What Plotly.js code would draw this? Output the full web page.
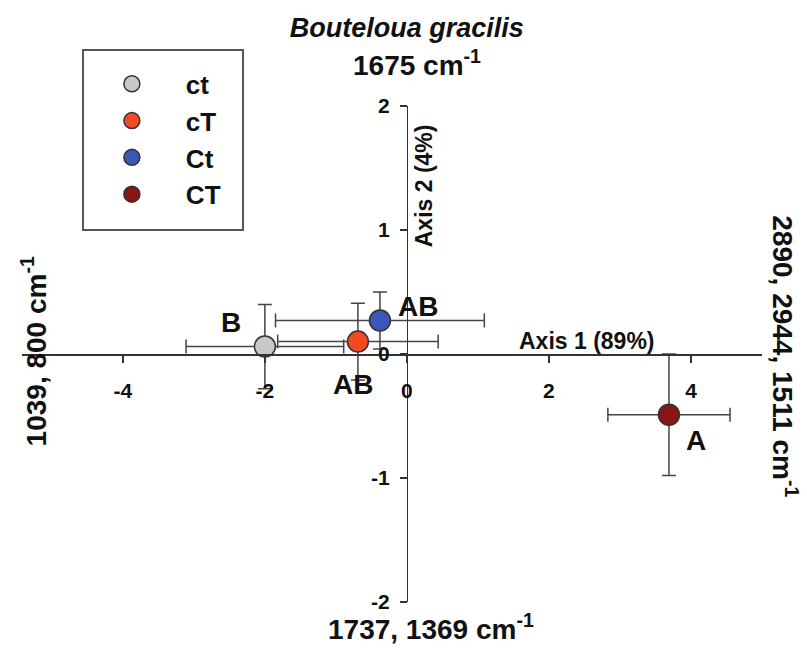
<!DOCTYPE html>
<html>
<head>
<meta charset="utf-8">
<script src="https://cdn.plot.ly/plotly-3.0.1.min.js"></script>
<style>html,body{margin:0;padding:0;background:#fff;}#chart{width:807px;height:651px;}</style>
</head>
<body>
<div id="chart"></div>
<script>
// ---- data ----
const groups  = ['ct', 'cT', 'Ct', 'CT'];
const axis1   = [-2.00, -0.69, -0.38, 3.69];
const axis2   = [0.06, 0.10, 0.27, -0.49];
const err1    = [1.11, 1.13, 1.47, 0.86];
const err2    = [0.34, 0.31, 0.23, 0.49];
const letters = ['B', 'AB', 'AB', 'A'];
const xTicks  = [-4, -2, 0, 2, 4];
const xLabels = ['-4', '-2', '0', '2', '4'];
const yTicks  = [-2, -1, 0, 1, 2];
const yLabels = ['-2', '-1', '0', '1', '2'];

// ---- styles ----
const colors = ['#c8c8c8', '#f24a24', '#3a56b8', '#8a1515'];
const letterShift = [[-34, 24], [-5, -43], [38, 14], [27, -26]];
const FONT = 'Liberation Sans, Arial, sans-serif';
const XR = [-5.42, 5.0], YR = [-2, 2];

const traces = groups.map((g, i) => ({
  type: 'scatter', mode: 'markers', name: g,
  x: [axis1[i]], y: [axis2[i]],
  marker: {size: 21, color: colors[i], line: {color: '#333', width: 1.5}},
  error_x: {type: 'data', array: [err1[i]], visible: true, color: '#444', thickness: 1.5, width: 7},
  error_y: {type: 'data', array: [err2[i]], visible: true, color: '#444', thickness: 1.5, width: 7}
}));

const annotations = groups.map((g, i) => ({
  x: axis1[i], y: axis2[i], xref: 'x', yref: 'y', text: letters[i], showarrow: false,
  xshift: letterShift[i][0], yshift: letterShift[i][1],
  font: {family: FONT, size: 28, weight: 'bold', color: '#111'}
}));

const bigFont = {family: FONT, size: 28, weight: 'bold', color: '#111'};
const axFont = {family: FONT, size: 23, weight: 'bold', color: '#111'};
annotations.push(
  {xref: 'x', yref: 'y', x: 2.53, y: 0, yshift: 13, text: 'Axis 1 (89%)', showarrow: false, font: axFont},
  {xref: 'x', yref: 'y', x: 0, y: 1.36, xshift: 17, text: 'Axis 2 (4%)', textangle: -90, showarrow: false, font: axFont},
  {xref: 'paper', yref: 'paper', x: 0.534, y: 1.127, text: '1675 cm<sup>-1</sup>', showarrow: false, font: bigFont},
  {xref: 'paper', yref: 'paper', x: 0.553, y: -0.09, text: '1737, 1369 cm<sup>-1</sup>', showarrow: false, font: bigFont},
  {xref: 'paper', yref: 'paper', x: -0.011, y: 0.505, text: '1039, 800 cm<sup>-1</sup>', textangle: -90, showarrow: false, font: bigFont},
  {xref: 'paper', yref: 'paper', x: 1.057, y: 0.495, text: '2890, 2944, 1511 cm<sup>-1</sup>', textangle: 90, showarrow: false, font: bigFont}
);

const axisCommon = {
  showgrid: false, zeroline: false, showline: true, linecolor: '#333', linewidth: 1.5,
  ticks: 'outside', ticklen: 7, tickwidth: 1.5, tickcolor: '#333',
  tickfont: {family: FONT, size: 21, weight: 'bold', color: '#111'},
  tickmode: 'array', fixedrange: true
};

const layout = {
  width: 807, height: 651,
  margin: {l: 22, r: 45, t: 106, b: 49},
  paper_bgcolor: '#fff', plot_bgcolor: '#fff',
  title: {text: '<b><i>Bouteloua gracilis</i></b>', font: {family: FONT, size: 27, color: '#111'},
          xref: 'paper', x: 0.52, xanchor: 'center', yref: 'container', y: 0.958, yanchor: 'middle'},
  xaxis: Object.assign({}, axisCommon, {range: XR, tickvals: xTicks, ticktext: xLabels, anchor: 'free', position: 0.5, ticklabelstandoff: 10}),
  yaxis: Object.assign({}, axisCommon, {range: YR, tickvals: yTicks, ticktext: yLabels, anchor: 'free',
          position: (0 - XR[0]) / (XR[1] - XR[0]), ticklabelstandoff: 6}),
  showlegend: true,
  legend: {x: 0.0755, y: 1.092, xanchor: 'left', yanchor: 'top', bgcolor: 'rgba(0,0,0,0)', borderwidth: 0,
           tracegroupgap: 0,
           font: {family: FONT, size: 26, weight: 'bold', color: '#111'}, itemwidth: 98, itemclick: false},
  shapes: [{type: 'rect', xref: 'paper', yref: 'paper', x0: 0.0824, x1: 0.2986, y0: 0.75, y1: 1.113,
            line: {color: '#555', width: 2}, fillcolor: 'rgba(0,0,0,0)', layer: 'below'}],
  annotations: annotations
};

Plotly.newPlot('chart', traces, layout, {displayModeBar: false, staticPlot: true});
</script>
</body>
</html>
